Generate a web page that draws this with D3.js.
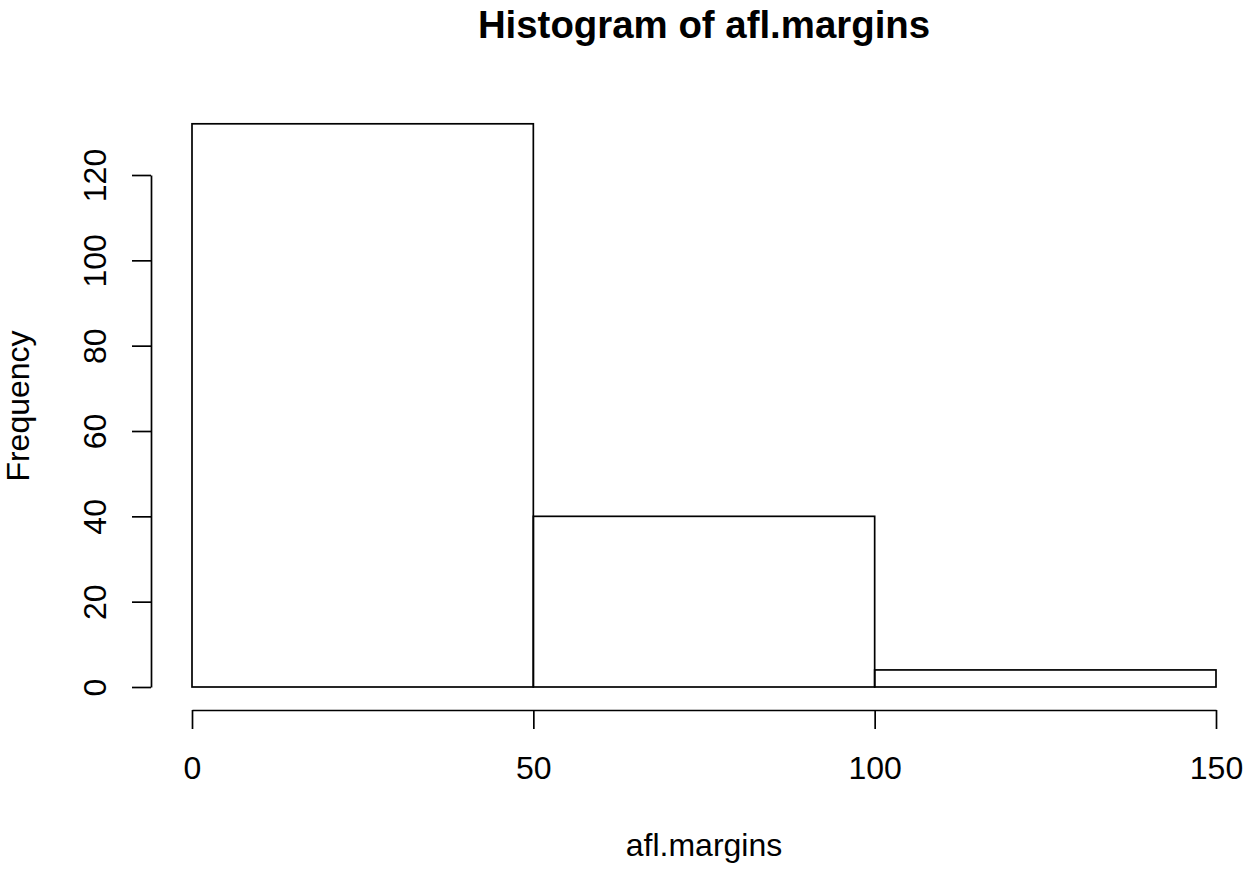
<!DOCTYPE html>
<html>
<head>
<meta charset="utf-8">
<script src="https://cdn.jsdelivr.net/npm/d3@7"></script>
<style>
  html, body { margin: 0; padding: 0; background: #fff; }
  svg { display: block; font-family: Arial, "Liberation Sans", sans-serif; }
</style>
</head>
<body>
<svg id="chart" width="1251" height="872"></svg>
<script>
const binStarts = [0, 50, 100];
const binEnds = [50, 100, 150];
const counts = [132, 40, 4];
const xTicks = [0, 50, 100, 150];
const yTicks = [0, 20, 40, 60, 80, 100, 120];
const title = "Histogram of afl.margins";
const xLabel = "afl.margins";
const yLabel = "Frequency";

const svg = d3.select("#chart");
const x = d3.scaleLinear().domain([0, 150]).range([192, 1216]);
const y = d3.scaleLinear().domain([0, 120]).range([687, 175]);
const lw = 1.7;

// bars
svg.append("g").selectAll("rect")
  .data(counts)
  .join("rect")
  .attr("x", (d, i) => x(binStarts[i]))
  .attr("width", (d, i) => x(binEnds[i]) - x(binStarts[i]))
  .attr("y", d => y(d))
  .attr("height", d => y(0) - y(d))
  .attr("fill", "none")
  .attr("stroke", "#000")
  .attr("stroke-width", lw);

// x axis
const gx = svg.append("g")
  .attr("transform", "translate(0,710)")
  .call(d3.axisBottom(x).tickValues(xTicks).tickSize(19).tickSizeOuter(0).tickFormat(d3.format("d")));
gx.select(".domain").attr("stroke-width", lw);
gx.selectAll(".tick line").attr("stroke-width", lw);
gx.selectAll(".tick text")
  .attr("y", 69).attr("dy", 0)
  .attr("font-size", 32)
  .attr("font-family", "Arial, 'Liberation Sans', sans-serif")
  .attr("fill", "#000");

// y axis
const gy = svg.append("g")
  .attr("transform", "translate(151,0)")
  .call(d3.axisLeft(y).tickValues(yTicks).tickSize(19).tickSizeOuter(0).tickFormat(d3.format("d")));
gy.select(".domain").attr("stroke-width", lw);
gy.selectAll(".tick line").attr("stroke-width", lw);
gy.selectAll(".tick text")
  .attr("x", 0).attr("y", 0).attr("dy", 0)
  .attr("transform", "translate(-45,0) rotate(-90)")
  .attr("text-anchor", "middle")
  .attr("font-size", 32)
  .attr("font-family", "Arial, 'Liberation Sans', sans-serif")
  .attr("fill", "#000");

// title
svg.append("text")
  .attr("x", 704).attr("y", 38)
  .attr("text-anchor", "middle")
  .attr("font-size", 38.4)
  .attr("font-weight", "bold")
  .text(title);

// x label
svg.append("text")
  .attr("x", 704).attr("y", 856)
  .attr("text-anchor", "middle")
  .attr("font-size", 32)
  .text(xLabel);

// y label
svg.append("text")
  .attr("transform", "translate(29,406) rotate(-90)")
  .attr("text-anchor", "middle")
  .attr("font-size", 32)
  .text(yLabel);
</script>
</body>
</html>
